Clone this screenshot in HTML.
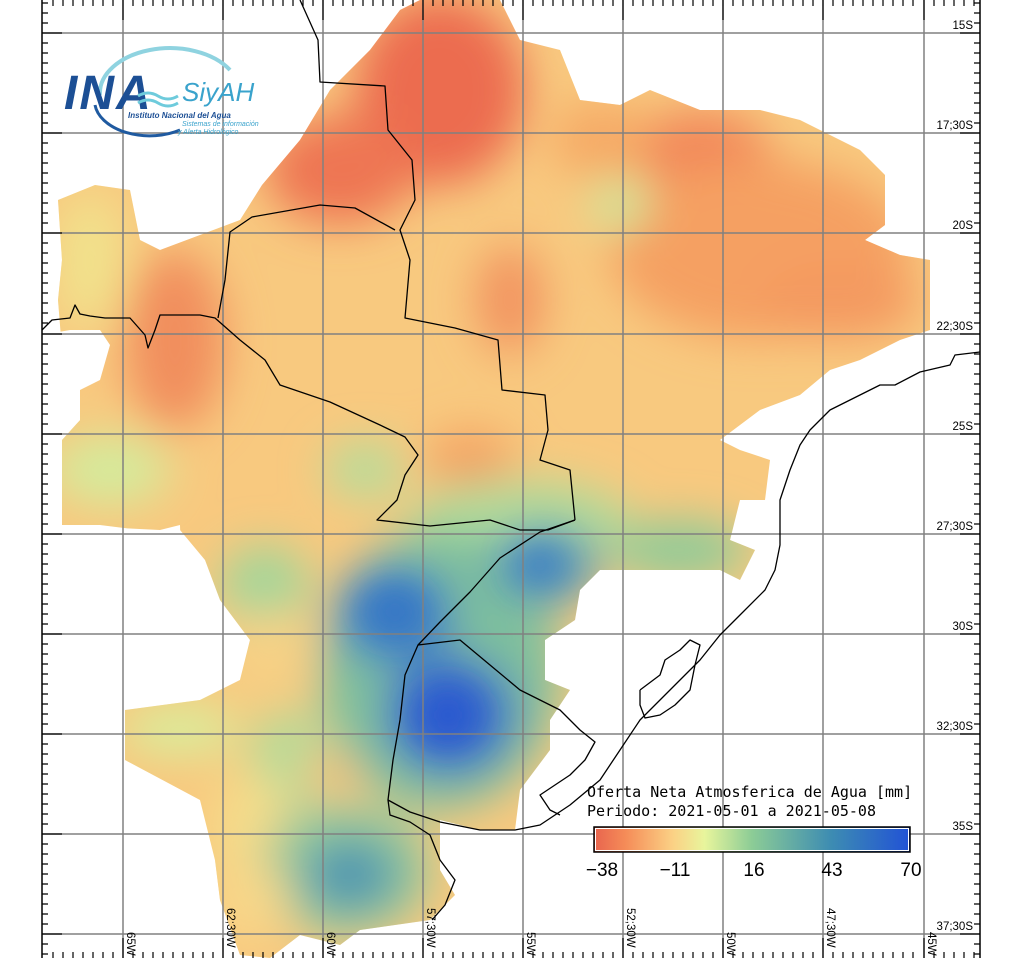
<!DOCTYPE html>
<html><head><meta charset="utf-8"><style>
html,body{margin:0;padding:0;background:#fff;}
svg{display:block;}
text{font-family:"Liberation Sans",sans-serif;}
.lab{font-family:"DejaVu Sans Mono","Liberation Mono",monospace;font-size:11.5px;fill:#000;}
.leg{font-family:"DejaVu Sans Mono","Liberation Mono",monospace;font-size:15px;fill:#000;}
.cb{font-family:"DejaVu Sans","Liberation Sans",sans-serif;font-size:19px;fill:#000;}
</style></head><body>
<svg width="1024" height="960" viewBox="0 0 1024 960" xmlns="http://www.w3.org/2000/svg">
<defs>
<clipPath id="shape">
<path d="M262,185 L300,140 L330,90 L370,50 L400,10 L420,0 L500,0 L520,40 L560,50 L580,100 L620,105 L650,90 L700,110 L760,110 L800,120 L860,150 L885,175 L885,225 L865,240 L900,255 L930,260 L930,330 L900,340 L860,360 L830,370 L800,395 L760,410 L720,440 L740,450 L770,460 L765,500 L740,500 L730,540 L755,550 L740,580 L720,570 L600,570 L580,590 L575,620 L545,640 L545,680 L570,690 L550,720 L550,750 L520,790 L515,830 L480,830 L440,820 L440,870 L455,895 L430,920 L360,930 L340,945 L300,935 L270,958 L240,955 L220,900 L215,860 L200,800 L125,760 L125,710 L200,700 L240,680 L250,640 L220,600 L205,560 L180,530 L140,530 L100,525 L62,525 L62,440 L80,420 L62,350 L58,300 L62,260 L58,200 L95,185 L130,190 L140,240 L160,250 L240,220 Z"/>
</clipPath>
<filter id="bl" filterUnits="userSpaceOnUse" x="0" y="0" width="1024" height="960"><feGaussianBlur stdDeviation="22"/></filter>
<filter id="bl2" filterUnits="userSpaceOnUse" x="0" y="0" width="1024" height="960"><feGaussianBlur stdDeviation="16"/></filter>
<linearGradient id="cbar" x1="0" x2="1" y1="0" y2="0">
<stop offset="0" stop-color="#e8644e"/>
<stop offset="0.1" stop-color="#f58c58"/>
<stop offset="0.25" stop-color="#fbd185"/>
<stop offset="0.35" stop-color="#e8f59c"/>
<stop offset="0.5" stop-color="#8ccc96"/>
<stop offset="0.75" stop-color="#3d8cb2"/>
<stop offset="1" stop-color="#2152d6"/>
</linearGradient>
</defs>

<g clip-path="url(#shape)">
<rect x="0" y="0" width="1024" height="960" fill="#f8c97f"/>
<g filter="url(#bl)">
<ellipse cx="440" cy="90" rx="85" ry="95" fill="#ec6c4f"/>
<ellipse cx="340" cy="170" rx="75" ry="55" fill="#ee7652"/>
<ellipse cx="700" cy="150" rx="70" ry="40" fill="#f2875a"/>
<ellipse cx="760" cy="250" rx="150" ry="90" fill="#f5a062"/>
<ellipse cx="600" cy="140" rx="50" ry="40" fill="#f6aa66"/>
<ellipse cx="840" cy="300" rx="80" ry="40" fill="#f49a60"/>
<ellipse cx="175" cy="340" rx="50" ry="90" fill="#f18e5d"/>
<ellipse cx="510" cy="300" rx="35" ry="55" fill="#f29460"/>
<ellipse cx="470" cy="460" rx="45" ry="30" fill="#f4a263"/>
<ellipse cx="90" cy="260" rx="35" ry="70" fill="#f1e28c"/>
<ellipse cx="620" cy="205" rx="30" ry="25" fill="#cde89c"/>
<ellipse cx="110" cy="470" rx="60" ry="35" fill="#d4eb9c"/>
<ellipse cx="365" cy="470" rx="40" ry="28" fill="#b5dd9b"/>
<ellipse cx="265" cy="585" rx="45" ry="40" fill="#a3d69a"/>
<ellipse cx="520" cy="520" rx="110" ry="40" fill="#b0dc9a"/>
<ellipse cx="680" cy="550" rx="70" ry="30" fill="#8ecb99"/>
<ellipse cx="180" cy="730" rx="60" ry="25" fill="#d8ee9c"/>
<ellipse cx="290" cy="760" rx="40" ry="50" fill="#b2dc9a"/>
<ellipse cx="250" cy="830" rx="40" ry="60" fill="#f5dc8a"/>
<ellipse cx="330" cy="770" rx="30" ry="20" fill="#f6c07a"/>
<ellipse cx="270" cy="650" rx="40" ry="40" fill="#f6d286"/>
<ellipse cx="440" cy="670" rx="120" ry="140" fill="#7fc09d"/>
<ellipse cx="545" cy="565" rx="55" ry="40" fill="#5a9cb6"/>
<ellipse cx="395" cy="615" rx="60" ry="50" fill="#4585c2"/>
<ellipse cx="450" cy="715" rx="65" ry="60" fill="#3a6fc8"/>
<ellipse cx="345" cy="870" rx="85" ry="65" fill="#8fc79c"/>
<ellipse cx="350" cy="875" rx="45" ry="35" fill="#4f96b0"/>
<ellipse cx="250" cy="900" rx="40" ry="40" fill="#f8d789"/>
</g>
<g filter="url(#bl2)">
<ellipse cx="540" cy="565" rx="25" ry="18" fill="#3f80c4"/>
<ellipse cx="448" cy="715" rx="32" ry="30" fill="#2a58d0"/>
<ellipse cx="395" cy="612" rx="30" ry="24" fill="#3676c6"/>
</g>
</g>
<!-- white notches -->
<path d="M42,335 L70,330 L100,330 L110,345 L100,380 L80,390 L80,420 L60,440 L42,440 Z" fill="#fff"/>
<path d="M118,528 L160,530 L180,525 L182,590 L150,600 L125,590 Z" fill="#fff"/>

<!-- grid -->
<g stroke="#808080" stroke-width="1.5" fill="none">
<path d="M123,0V958 M223,0V958 M323,0V958 M423,0V958 M523,0V958 M623,0V958 M723,0V958 M823,0V958 M924,0V958"/>
<path d="M42,33H980 M42,133H980 M42,233H980 M42,334H980 M42,434H980 M42,534H980 M42,634H980 M42,734H980 M42,834H980 M42,934H980"/>
</g>

<!-- borders -->
<g stroke="#000" stroke-width="1.3" fill="none" stroke-linejoin="round">
<polyline points="300,0 318,40 320,82 385,86 388,130 412,160 415,200 400,230 410,260 405,318 455,328 498,340 502,390 545,395 548,430 540,460 570,470 575,520"/>
<polyline points="42,330 52,320 70,318 75,305 80,314 90,316 105,318 130,318 145,335 148,348 155,330 160,315 200,315 215,318 240,340 265,360 280,385 330,402 380,425 405,437 418,455 405,475 397,500 377,520 430,526 490,520 520,530 548,530 575,520"/>
<polyline points="218,318 225,280 230,232 252,217 320,205 355,208 395,230"/>
<polyline points="575,520 540,532 500,558 470,592 440,622 418,645 405,675 400,720 393,760 388,800"/>
<polyline points="418,645 460,640 490,665 520,690 560,710 580,730 595,742 585,760 570,775 540,795 550,810 560,815"/>
<polyline points="980,352 955,355 950,365 920,372 895,385 880,385 860,395 830,410 810,430 800,445 790,470 780,500 780,545 775,570 765,590 740,615 720,635 700,660 670,690 640,720 620,750 600,780 570,805 540,825 515,830 480,830 440,822 410,812 388,800 390,815 410,822 430,835 440,860 455,880 445,905 432,920"/>
<polyline points="640,690 660,675 665,660 680,650 690,640 700,645 695,665 690,690 675,705 660,715 645,718 640,705 640,690"/>
</g>

<!-- frame & ticks -->
<g stroke="#000" stroke-width="1.5" fill="none">
<path d="M42,0V958 M980,0V958"/>
</g>
<g stroke="#000" stroke-width="1.2">
<path d="M42,3h6 M42,13h6 M42,23h6 M42,43h6 M42,53h6 M42,63h6 M42,73h6 M42,83h6 M42,93h6 M42,103h6 M42,113h6 M42,123h6 M42,143h6 M42,153h6 M42,163h6 M42,173h6 M42,183h6 M42,193h6 M42,203h6 M42,213h6 M42,223h6 M42,243h6 M42,253h6 M42,263h6 M42,273h6 M42,283h6 M42,293h6 M42,303h6 M42,313h6 M42,323h6 M42,344h6 M42,354h6 M42,364h6 M42,374h6 M42,384h6 M42,394h6 M42,404h6 M42,414h6 M42,424h6 M42,444h6 M42,454h6 M42,464h6 M42,474h6 M42,484h6 M42,494h6 M42,504h6 M42,514h6 M42,524h6 M42,544h6 M42,554h6 M42,564h6 M42,574h6 M42,584h6 M42,594h6 M42,604h6 M42,614h6 M42,624h6 M42,644h6 M42,654h6 M42,664h6 M42,674h6 M42,684h6 M42,694h6 M42,704h6 M42,714h6 M42,724h6 M42,744h6 M42,754h6 M42,764h6 M42,774h6 M42,784h6 M42,794h6 M42,804h6 M42,814h6 M42,824h6 M42,844h6 M42,854h6 M42,864h6 M42,874h6 M42,884h6 M42,894h6 M42,904h6 M42,914h6 M42,924h6 M42,944h6 M42,954h6"/>
<path d="M980,3h-6 M980,13h-6 M980,23h-6 M980,43h-6 M980,53h-6 M980,63h-6 M980,73h-6 M980,83h-6 M980,93h-6 M980,103h-6 M980,113h-6 M980,123h-6 M980,143h-6 M980,153h-6 M980,163h-6 M980,173h-6 M980,183h-6 M980,193h-6 M980,203h-6 M980,213h-6 M980,223h-6 M980,243h-6 M980,253h-6 M980,263h-6 M980,273h-6 M980,283h-6 M980,293h-6 M980,303h-6 M980,313h-6 M980,323h-6 M980,344h-6 M980,354h-6 M980,364h-6 M980,374h-6 M980,384h-6 M980,394h-6 M980,404h-6 M980,414h-6 M980,424h-6 M980,444h-6 M980,454h-6 M980,464h-6 M980,474h-6 M980,484h-6 M980,494h-6 M980,504h-6 M980,514h-6 M980,524h-6 M980,544h-6 M980,554h-6 M980,564h-6 M980,574h-6 M980,584h-6 M980,594h-6 M980,604h-6 M980,614h-6 M980,624h-6 M980,644h-6 M980,654h-6 M980,664h-6 M980,674h-6 M980,684h-6 M980,694h-6 M980,704h-6 M980,714h-6 M980,724h-6 M980,744h-6 M980,754h-6 M980,764h-6 M980,774h-6 M980,784h-6 M980,794h-6 M980,804h-6 M980,814h-6 M980,824h-6 M980,844h-6 M980,854h-6 M980,864h-6 M980,874h-6 M980,884h-6 M980,894h-6 M980,904h-6 M980,914h-6 M980,924h-6 M980,944h-6 M980,954h-6"/>
<path d="M42,33h20 M42,133h20 M42,233h20 M42,334h20 M42,434h20 M42,534h20 M42,634h20 M42,734h20 M42,834h20 M42,934h20 M980,33h-20 M980,133h-20 M980,233h-20 M980,334h-20 M980,434h-20 M980,534h-20 M980,634h-20 M980,734h-20 M980,834h-20 M980,934h-20"/>
<path d="M53,0v6 M63,0v6 M73,0v6 M83,0v6 M93,0v6 M103,0v6 M113,0v6 M133,0v6 M143,0v6 M153,0v6 M163,0v6 M173,0v6 M183,0v6 M193,0v6 M203,0v6 M213,0v6 M233,0v6 M243,0v6 M253,0v6 M263,0v6 M273,0v6 M283,0v6 M293,0v6 M303,0v6 M313,0v6 M333,0v6 M343,0v6 M353,0v6 M363,0v6 M373,0v6 M383,0v6 M393,0v6 M403,0v6 M413,0v6 M433,0v6 M443,0v6 M453,0v6 M463,0v6 M473,0v6 M483,0v6 M493,0v6 M503,0v6 M513,0v6 M533,0v6 M543,0v6 M553,0v6 M563,0v6 M573,0v6 M583,0v6 M593,0v6 M603,0v6 M613,0v6 M633,0v6 M643,0v6 M653,0v6 M663,0v6 M673,0v6 M683,0v6 M693,0v6 M703,0v6 M713,0v6 M733,0v6 M743,0v6 M753,0v6 M763,0v6 M773,0v6 M783,0v6 M793,0v6 M803,0v6 M813,0v6 M833,0v6 M843,0v6 M853,0v6 M863,0v6 M873,0v6 M883,0v6 M893,0v6 M903,0v6 M913,0v6 M934,0v6 M944,0v6 M954,0v6 M964,0v6 M974,0v6"/>
<path d="M53,958v-6 M63,958v-6 M73,958v-6 M83,958v-6 M93,958v-6 M103,958v-6 M113,958v-6 M133,958v-6 M143,958v-6 M153,958v-6 M163,958v-6 M173,958v-6 M183,958v-6 M193,958v-6 M203,958v-6 M213,958v-6 M233,958v-6 M243,958v-6 M253,958v-6 M263,958v-6 M273,958v-6 M283,958v-6 M293,958v-6 M303,958v-6 M313,958v-6 M333,958v-6 M343,958v-6 M353,958v-6 M363,958v-6 M373,958v-6 M383,958v-6 M393,958v-6 M403,958v-6 M413,958v-6 M433,958v-6 M443,958v-6 M453,958v-6 M463,958v-6 M473,958v-6 M483,958v-6 M493,958v-6 M503,958v-6 M513,958v-6 M533,958v-6 M543,958v-6 M553,958v-6 M563,958v-6 M573,958v-6 M583,958v-6 M593,958v-6 M603,958v-6 M613,958v-6 M633,958v-6 M643,958v-6 M653,958v-6 M663,958v-6 M673,958v-6 M683,958v-6 M693,958v-6 M703,958v-6 M713,958v-6 M733,958v-6 M743,958v-6 M753,958v-6 M763,958v-6 M773,958v-6 M783,958v-6 M793,958v-6 M803,958v-6 M813,958v-6 M833,958v-6 M843,958v-6 M853,958v-6 M863,958v-6 M873,958v-6 M883,958v-6 M893,958v-6 M903,958v-6 M913,958v-6 M934,958v-6 M944,958v-6 M954,958v-6 M964,958v-6 M974,958v-6"/>
<path d="M123,0v20 M223,0v20 M323,0v20 M423,0v20 M523,0v20 M623,0v20 M723,0v20 M823,0v20 M924,0v20 M123,958v-20 M223,958v-20 M323,958v-20 M423,958v-20 M523,958v-20 M623,958v-20 M723,958v-20 M823,958v-20 M924,958v-20"/>
</g>

<!-- lat labels -->
<g class="lab" text-anchor="end">
<text x="973" y="29">15S</text>
<text x="973" y="129">17;30S</text>
<text x="973" y="229">20S</text>
<text x="973" y="330">22;30S</text>
<text x="973" y="430">25S</text>
<text x="973" y="530">27;30S</text>
<text x="973" y="630">30S</text>
<text x="973" y="730">32;30S</text>
<text x="973" y="830">35S</text>
<text x="973" y="930">37;30S</text>
</g>
<g class="lab">
<text transform="translate(127,932) rotate(90)">65W</text>
<text transform="translate(227,908) rotate(90)">62;30W</text>
<text transform="translate(327,932) rotate(90)">60W</text>
<text transform="translate(427,908) rotate(90)">57;30W</text>
<text transform="translate(527,932) rotate(90)">55W</text>
<text transform="translate(627,908) rotate(90)">52;30W</text>
<text transform="translate(727,932) rotate(90)">50W</text>
<text transform="translate(827,908) rotate(90)">47;30W</text>
<text transform="translate(928,932) rotate(90)">45W</text>
</g>

<!-- logo -->
<path d="M100,95 A70,45 0 0 1 230,70" stroke="#8fd3e0" stroke-width="4" fill="none"/>
<path d="M95,105 A55,35 0 0 0 180,130" stroke="#1f5aa0" stroke-width="3" fill="none"/>
<text x="64" y="109" font-size="48" font-style="italic" font-weight="bold" fill="#1c4f95" letter-spacing="2">INA</text>
<path d="M138,96 q10,-6 20,0 t20,0 M138,103 q10,-6 20,0 t20,0" stroke="#6ecbdc" stroke-width="3" fill="none"/>
<text x="182" y="101" font-size="26" font-style="italic" fill="#3aa3cc">SiyAH</text>
<text x="128" y="118" font-size="8" font-style="italic" font-weight="bold" fill="#1c4f95">Instituto Nacional del Agua</text>
<text x="182" y="126" font-size="7" font-style="italic" fill="#3aa3cc">Sistemas de información</text>
<text x="178" y="134" font-size="7" font-style="italic" fill="#3aa3cc">y Alerta Hidrológico</text>

<!-- legend -->
<text class="leg" x="587" y="797">Oferta Neta Atmosferica de Agua [mm]</text>
<text class="leg" x="587" y="816">Periodo: 2021-05-01 a 2021-05-08</text>
<rect x="594" y="827" width="316" height="25" fill="url(#cbar)" stroke="#000" stroke-width="1.5"/>
<rect x="595.5" y="828.5" width="313" height="22" fill="none" stroke="#fff" stroke-width="1"/>
<g class="cb" text-anchor="middle">
<text x="602" y="876">−38</text>
<text x="675" y="876">−11</text>
<text x="754" y="876">16</text>
<text x="832" y="876">43</text>
<text x="911" y="876">70</text>
</g>
</svg>
</body></html>
